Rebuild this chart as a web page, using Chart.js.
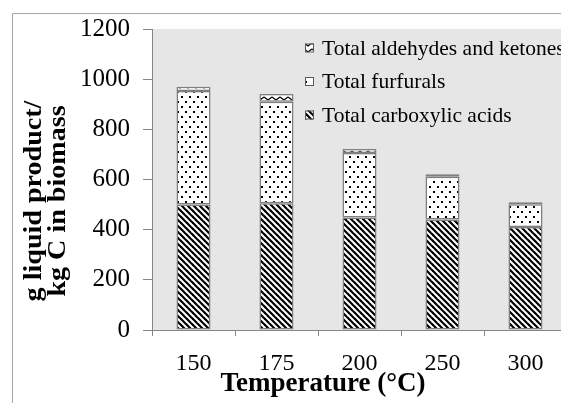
<!DOCTYPE html>
<html>
<head>
<meta charset="utf-8">
<script src="https://cdn.jsdelivr.net/npm/chart.js@4.4.0/dist/chart.umd.min.js"></script>
<style>
    html, body { margin: 0; padding: 0; background: #fff; overflow: hidden; }
    #wrap { width: 600px; height: 403px; }
</style>
</head>
<body>
<div id="wrap"><canvas id="liquidChart" width="600" height="403"></canvas></div>
<script>
// Liquid product yield per kg of carbon, by reaction temperature
const temperatures = ['150', '175', '200', '250', '300'];
const carboxylicAcids = [500, 505, 449, 441, 411];
const furfurals = [453, 405, 257, 170, 90];
const aldehydesKetones = [17, 31, 16, 10, 8];
const yTicks = [0, 200, 400, 600, 800, 1000, 1200];
const yTitle = ['g liquid product/', 'kg C in biomass'];
const xTitle = 'Temperature (°C)';

const FONT = "'Liberation Serif', 'Times New Roman', serif";
const AXIS_GRAY = '#868686';

function makeTile(w, h, draw) {
    const c = document.createElement('canvas');
    c.width = w;
    c.height = h;
    const g = c.getContext('2d');
    g.fillStyle = '#fff';
    g.fillRect(0, 0, w, h);
    g.fillStyle = '#000';
    g.strokeStyle = '#000';
    draw(g);
    return c;
}

const ctx = document.getElementById('liquidChart').getContext('2d');

// wide black diagonal stripes
const stripeTile = makeTile(6, 6, g => {
    g.lineWidth = 2.2;
    for (let k = -1; k <= 1; k++) {
        g.beginPath();
        g.moveTo(k * 6 - 1, -1);
        g.lineTo(k * 6 + 7, 7);
        g.stroke();
    }
});
// staggered dots
const dotTile = makeTile(8, 10, g => {
    g.fillRect(1, 1, 2, 2);
    g.fillRect(5, 6, 2, 2);
});
// small zigzag
const zigTile = makeTile(8, 6, g => {
    g.lineWidth = 1.3;
    g.beginPath();
    g.moveTo(0, 1);
    g.lineTo(4, 4);
    g.lineTo(8, 1);
    g.stroke();
});

const acidFill = ctx.createPattern(stripeTile, 'repeat');
const furfuralFill = ctx.createPattern(dotTile, 'repeat');
const aldehydeFill = ctx.createPattern(zigTile, 'repeat');

const frame = {
    id: 'frame',
    beforeDraw(chart) {
        const c = chart.ctx;
        const a = chart.chartArea;
        c.save();
        c.fillStyle = '#fff';
        c.fillRect(0, 0, chart.width, chart.height);
        c.strokeStyle = '#a6a6a6';
        c.lineWidth = 1;
        c.beginPath();
        c.moveTo(12.5, chart.height);
        c.lineTo(12.5, 13.5);
        c.lineTo(chart.width, 13.5);
        c.stroke();
        c.fillStyle = '#e6e6e6';
        c.fillRect(a.left, a.top, a.right - a.left, a.bottom - a.top);
        c.restore();
    },
    // axis titles placed by hand, as in the original workbook
    afterDraw(chart) {
        const c = chart.ctx;
        c.save();
        c.font = 'bold 26px ' + FONT;
        c.fillStyle = '#000';
        c.textAlign = 'center';
        c.textBaseline = 'alphabetic';
        c.translate(41, 201);
        c.rotate(-Math.PI / 2);
        c.scale(1.08, 1);
        yTitle.forEach((line, i) => c.fillText(line, 0, i * 24));
        c.restore();

        c.save();
        c.font = 'bold 27px ' + FONT;
        c.fillStyle = '#000';
        c.textAlign = 'center';
        c.textBaseline = 'alphabetic';
        c.fillText(xTitle, 323, 391);
        c.restore();
    }
};

// legend drawn inside the plot, top-right, last series first
const insideLegend = {
    id: 'insideLegend',
    afterDraw(chart) {
        const c = chart.ctx;
        const sets = chart.data.datasets.slice().reverse();
        c.save();
        c.font = '21.5px ' + FONT;
        c.textBaseline = 'middle';
        sets.forEach((ds, i) => {
            const y = 48 + i * 33.5;
            c.fillStyle = ds.backgroundColor;
            c.fillRect(305, y - 4.5, 9, 9);
            c.strokeStyle = '#595959';
            c.lineWidth = 1;
            c.strokeRect(305.5, y - 4, 8, 8);
            c.fillStyle = '#000';
            c.fillText(ds.label, 322, y + 1);
        });
        c.restore();
    }
};

new Chart(ctx, {
    type: 'bar',
    data: {
        labels: temperatures,
        datasets: [
            { label: 'Total carboxylic acids', data: carboxylicAcids, backgroundColor: acidFill },
            { label: 'Total furfurals', data: furfurals, backgroundColor: furfuralFill },
            { label: 'Total aldehydes and ketones', data: aldehydesKetones, backgroundColor: aldehydeFill }
        ]
    },
    options: {
        responsive: false,
        animation: false,
        layout: { padding: { left: 12, top: 29, right: 33, bottom: 0 } },
        datasets: {
            bar: {
                barPercentage: 0.41,
                categoryPercentage: 1,
                borderColor: '#7f7f7f',
                borderWidth: 1.5,
                borderSkipped: false
            }
        },
        plugins: {
            legend: { display: false },
            tooltip: { enabled: false }
        },
        scales: {
            x: {
                stacked: true,
                offset: true,
                grid: { offset: true, drawOnChartArea: false, tickLength: 6, color: AXIS_GRAY },
                border: { color: AXIS_GRAY },
                ticks: { color: '#000', font: { family: FONT, size: 24 }, padding: 13, maxRotation: 0 },
                afterFit: scale => { scale.height = 73; }
            },
            y: {
                stacked: true,
                min: 0,
                max: 1200,
                afterBuildTicks: scale => { scale.ticks = yTicks.map(v => ({ value: v })); },
                grid: { drawOnChartArea: false, tickLength: 9, color: AXIS_GRAY },
                border: { color: AXIS_GRAY },
                ticks: {
                    color: '#000',
                    font: { family: FONT, size: 25 },
                    padding: 13,
                    callback: v => String(v)
                },
                afterFit: scale => { scale.width = 140; }
            }
        }
    },
    plugins: [frame, insideLegend]
});
</script>
</body>
</html>
